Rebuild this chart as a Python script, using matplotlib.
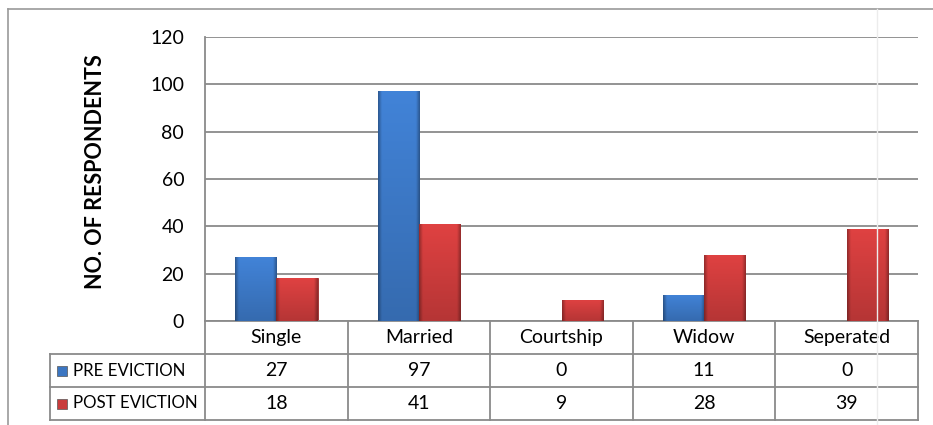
import numpy as np
import matplotlib
matplotlib.use('Agg')
import matplotlib.pyplot as plt
from matplotlib.patches import Rectangle
from matplotlib.lines import Line2D
from matplotlib.colors import to_rgb

# data
categories = ['Single', 'Married', 'Courtship', 'Widow', 'Seperated']
pre_eviction = [27, 97, 0, 11, 0]
post_eviction = [18, 41, 9, 28, 39]
series_names = ['PRE EVICTION', 'POST EVICTION']
y_ticks = [0, 20, 40, 60, 80, 100, 120]

plt.rcParams['font.family'] = ['Lato', 'DejaVu Sans']

W, H = 933, 425
fig = plt.figure(figsize=(W / 100, H / 100), dpi=100)
ax = fig.add_axes([205 / W, 1 - 321 / H, 713 / W, 284 / H])

blue = '#3b76c2'
red = '#c93b3b'
grid_col = '#8a8a8a'
fs = 14


def shade_bar(bar, base):
    # excel-like bevel: darker sides, lighter top
    x0, y0 = bar.get_x(), bar.get_y()
    w, h = bar.get_width(), bar.get_height()
    if h <= 0:
        return
    nx, ny = 60, 120
    u = np.linspace(0, 1, nx)
    v = np.linspace(0, 1, ny)
    edge = np.clip(np.minimum(u, 1 - u) / 0.09, 0, 1)
    side = 0.72 + 0.33 * edge[None, :]
    vert = 0.86 + 0.2 * v[:, None]
    rgb = np.array(to_rgb(base))[None, None, :] * (side * vert)[:, :, None]
    img = ax.imshow(np.clip(rgb, 0, 1), extent=(x0, x0 + w, y0, y0 + h),
                    origin='lower', aspect='auto', zorder=3, interpolation='bilinear')
    img.set_clip_path(bar)


x = np.arange(len(categories))
bw = 0.29
bars_pre = ax.bar(x - bw / 2, pre_eviction, bw, color=blue, edgecolor='#2c5a96',
                  linewidth=0.6, zorder=2)
bars_post = ax.bar(x + bw / 2, post_eviction, bw, color=red, edgecolor='#962a2a',
                   linewidth=0.6, zorder=2)
for b in bars_pre:
    shade_bar(b, blue)
for b in bars_post:
    shade_bar(b, red)

ax.set_xlim(-0.5, len(categories) - 0.5)
ax.set_ylim(0, 120)
ax.set_yticks(y_ticks)
ax.set_xticks([])
ax.tick_params(axis='y', length=0, pad=15, labelsize=fs)
ax.yaxis.grid(True, color=grid_col, linewidth=1.3)
ax.set_axisbelow(True)
for s in ['top', 'right', 'bottom']:
    ax.spines[s].set_visible(False)
ax.spines['left'].set_color(grid_col)
ax.spines['left'].set_linewidth(1.3)

# data table under the plot, x in data units, y in axes units
tr = ax.get_xaxis_transform()
row_h = 33 / 284
n = len(categories)
left = -0.5
right = n - 0.5
lab_left = left - 155 / 142.6
line_kw = dict(color=grid_col, lw=1.3, transform=tr, clip_on=False)

ax.add_line(Line2D([left, right], [0, 0], **line_kw))
for k in range(1, 4):
    ax.add_line(Line2D([lab_left, right], [-k * row_h, -k * row_h], **line_kw))
ax.add_line(Line2D([lab_left, lab_left], [-row_h, -3 * row_h], **line_kw))
for k in range(n + 1):
    ax.add_line(Line2D([left + k, left + k], [0, -3 * row_h], **line_kw))

for i, cat in enumerate(categories):
    ax.text(i, -0.5 * row_h, cat, transform=tr, ha='center', va='center', fontsize=fs)

for r, (name, vals, col) in enumerate(zip(series_names,
                                          [pre_eviction, post_eviction],
                                          [blue, red])):
    yc = -(r + 1.5) * row_h
    for i, v in enumerate(vals):
        ax.text(i, yc, str(v), transform=tr, ha='center', va='center', fontsize=fs)
    ax.text(lab_left + 23 / 142.6, yc, name, transform=tr, ha='left', va='center',
            fontsize=12.2)
    ax.add_patch(Rectangle((lab_left + 7 / 142.6, yc - 5 / 284), 10 / 142.6, 10 / 284,
                           transform=tr, facecolor=col, edgecolor='#555555',
                           linewidth=0.5, clip_on=False))

fig.text(95 / W, 1 - 172 / H, 'NO. OF RESPONDENTS', rotation=90, fontsize=15.5,
         fontweight='bold', ha='center', va='center')

# chart area border
fig.add_artist(Line2D([8 / W, 1], [1 - 9 / H, 1 - 9 / H], color='#9a9a9a', lw=1.2))
fig.add_artist(Line2D([8 / W, 8 / W], [0, 1 - 9 / H], color='#9a9a9a', lw=1.2))
fig.add_artist(Line2D([877 / W, 877 / W], [0, 1 - 9 / H], color='#ececec', lw=1))

fig.savefig('out.png', dpi=100)
